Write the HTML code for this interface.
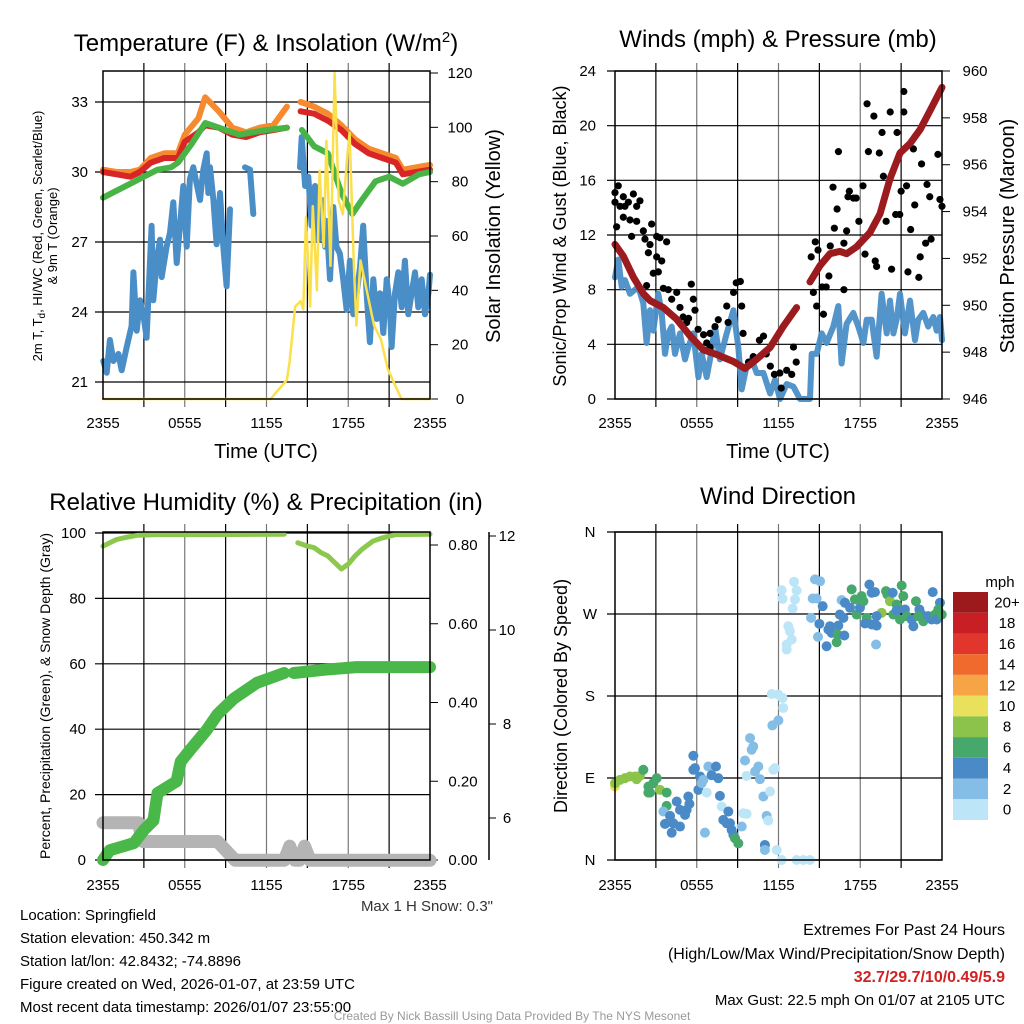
<!DOCTYPE html>
<html><head><meta charset="utf-8"><style>
html,body{margin:0;padding:0;background:#fff;}
svg{display:block;font-family:"Liberation Sans",Arial,sans-serif;}
</style></head><body>
<svg id="chart" width="1024" height="1024" viewBox="0 0 1024 1024" xmlns="http://www.w3.org/2000/svg">
<rect x="0" y="0" width="1024" height="1024" fill="#fff"/>
<g id="p1"></g>
<g id="p2"></g>
<g id="p3"></g>
<g id="p4"></g>
<text x="266" y="51" font-size="24" text-anchor="middle">Temperature (F) &amp; Insolation (W/m<tspan dy="-9" font-size="15">2</tspan><tspan dy="9">)</tspan></text>
<text x="778" y="47" font-size="24" text-anchor="middle">Winds (mph) &amp; Pressure (mb)</text>
<text x="266" y="510" font-size="24" text-anchor="middle">Relative Humidity (%) &amp; Precipitation (in)</text>
<text x="778" y="504" font-size="24" text-anchor="middle">Wind Direction</text>
<text x="266" y="458" font-size="20" text-anchor="middle">Time (UTC)</text>
<text x="778" y="458" font-size="20" text-anchor="middle">Time (UTC)</text>
<text transform="translate(42,236) rotate(-90)" font-size="13" text-anchor="middle">2m T, T<tspan dy="3" font-size="10">d</tspan><tspan dy="-3">, HI/WC (Red, Green, Scarlet/Blue)</tspan></text>
<text transform="translate(57,236) rotate(-90)" font-size="13" text-anchor="middle">&amp; 9m T (Orange)</text>
<text transform="translate(500,236) rotate(-90)" font-size="20" text-anchor="middle">Solar Insolation (Yellow)</text>
<text transform="translate(566,236) rotate(-90)" font-size="18" text-anchor="middle">Sonic/Prop Wind &amp; Gust (Blue, Black)</text>
<text transform="translate(1014,236) rotate(-90)" font-size="20" text-anchor="middle">Station Pressure (Maroon)</text>
<text transform="translate(50,696) rotate(-90)" font-size="14" text-anchor="middle">Percent, Precipitation (Green), &amp; Snow Depth (Gray)</text>
<text transform="translate(567,696) rotate(-90)" font-size="18" text-anchor="middle">Direction (Colored By Speed)</text>
<text x="493" y="911" font-size="15" text-anchor="end" fill="#333">Max 1 H Snow: 0.3"</text>
<g font-size="15">
<text x="20" y="920">Location: Springfield</text>
<text x="20" y="943">Station elevation: 450.342 m</text>
<text x="20" y="966">Station lat/lon: 42.8432; -74.8896</text>
<text x="20" y="989">Figure created on Wed, 2026-01-07, at 23:59 UTC</text>
<text x="20" y="1012">Most recent data timestamp: 2026/01/07 23:55:00</text>
</g>
<g font-size="16" text-anchor="end">
<text x="1005" y="935">Extremes For Past 24 Hours</text>
<text x="1005" y="959">(High/Low/Max Wind/Precipitation/Snow Depth)</text>
<text x="1005" y="982" fill="#d42020" font-weight="bold">32.7/29.7/10/0.49/5.9</text>
<text x="1005" y="1005" font-size="15">Max Gust: 22.5 mph On 01/07 at 2105 UTC</text>
</g>
<text x="512" y="1020" font-size="12" fill="#999" text-anchor="middle">Created By Nick Bassill Using Data Provided By The NYS Mesonet</text>
</svg>
<script>
// ---------- data ----------
const timeTicks = ["2355","0555","1155","1755","2355"];
// Temperature panel
const redT = [0,1,2,2.7,3.5,4.5,5.5,6,7,7.5,8.5,9.5,10.5,11.5,12.5,13.5,null,14.5,15.5,16.5,17.5,18.5,19.5,20.5,21.5,22,23,24];
const redV = [30.0,29.9,29.8,30.0,30.4,30.6,30.6,31.3,31.7,32.0,31.9,31.6,31.5,31.7,31.8,31.9,null,32.6,32.5,32.2,31.8,31.2,30.8,30.6,30.4,29.9,30.0,30.1];
const orangeV = [30.1,30.0,30.0,30.1,30.6,30.8,30.8,31.6,32.3,33.2,32.6,31.9,31.7,31.9,32.0,32.8,null,33.0,32.8,32.5,32.0,31.4,31.0,30.8,30.6,30.1,30.2,30.3];
const greenT = [0,1,2,3,4,5,5.5,6.5,7.5,9,10,11,12,13.5,null,14.6,15.5,16.5,17.5,18.3,19,20,21,22,23.2,24];
const greenV = [28.9,29.2,29.5,29.8,30.1,30.2,30.4,31.2,32.1,31.8,31.6,31.7,31.8,31.9,null,31.8,31.1,30.8,29.1,28.2,28.8,29.6,29.8,29.5,29.9,30.0];
const blueT = [0.02,0.27,0.51,0.76,1.13,1.37,1.74,2.1,2.23,2.47,2.72,2.96,3.2,3.57,3.69,3.94,4.18,4.31,4.67,4.92,5.16,5.41,5.65,5.89,6.14,6.38,6.63,6.87,7.12,7.36,7.61,7.73,7.85,8.1,8.34,8.59,8.83,9.07,9.32,null,10.42,10.79,11.03,null,14.46,14.58,14.83,15.07,15.31,15.56,15.8,16.05,16.29,16.41,16.66,16.9,17.14,17.39,17.63,17.88,18.12,18.37,18.61,18.86,19.1,19.35,19.59,19.84,20.08,20.33,20.57,20.82,21.06,21.18,21.43,21.67,21.92,22.16,22.41,22.65,22.9,23.14,23.39,23.63,23.88,24];
const blueV = [21.9,21.4,22.8,21.9,22.2,21.5,22.5,23.4,25.7,23.2,24.5,23.9,22.9,27.7,24.5,26.2,27.1,25.5,26.8,27.4,28.7,26.1,27.7,29.4,26.8,29.7,30.2,29.5,28.8,30.1,30.8,29.1,30.2,28.8,26.9,29.1,26.8,25.1,28.4,null,30.2,30.1,28.2,null,30.2,31.5,29.4,29.8,27.7,29.4,27.1,28.8,26.8,27.9,25.4,28.5,26.8,26.5,25.4,24.1,26.2,23.9,24.8,25.9,27.7,24.8,22.7,25.4,23.7,24.8,23.1,25.4,24.2,22.5,24.8,25.7,24.2,26.2,23.9,24.8,25.7,24.2,25.4,23.9,24.8,25.6];
const solarT = [0,12.3,12.8,13.5,13.7,14.1,14.5,14.7,14.9,15.2,15.4,15.7,15.9,16.2,16.4,16.7,17.0,17.3,17.6,17.9,18.1,18.4,18.6,18.9,19.4,19.9,20.4,20.9,21.9,24];
const solarV = [0,0,3,7,14,34,36,33,67,34,71,40,84,56,95,49,120,73,68,88,98,51,27,51,39,27,22,11,0,0];
// Winds panel
const windT = [0,0.24,0.49,0.73,1.1,1.47,1.71,2.08,2.32,2.57,2.81,3.18,3.43,3.67,3.91,4.16,4.4,4.77,5.14,5.38,5.75,6.12,6.36,6.73,6.97,7.34,7.7,8.2,8.69,9.05,9.3,9.66,10.03,10.4,10.89,11.38,11.74,12.11,12.6,13.09,13.58,14.31,14.44,14.8,15.17,15.53,16.02,16.39,16.63,17.0,17.49,17.86,18.23,18.47,18.84,19.2,19.57,19.94,20.18,20.43,20.67,20.92,21.28,21.65,22.02,22.26,22.63,22.99,23.36,23.61,23.85,24];
const windV = [8.9,10.2,8.2,8.7,7.7,8.0,8.2,7.0,4.1,6.5,5.0,7.7,6.3,3.3,4.8,5.3,3.3,4.8,2.9,3.8,4.8,1.6,3.3,1.6,2.9,5.3,2.9,4.8,6.5,3.8,0.7,2.4,2.9,1.9,1.9,0.4,1.4,0,1.1,0.9,0,0,3.3,3.3,4.8,4.1,5.3,6.8,2.6,5.5,6.3,5.3,4.1,5.8,5.8,3.1,7.7,4.8,7.2,4.8,5.8,7.7,4.8,7.2,4.3,5.8,6.3,5.3,6.0,5.0,6.0,4.3];
const pressT = [0,0.61,1.35,2.08,2.57,3.55,4.53,5.5,6.48,7.46,8.69,9.54,10.4,11.38,12.35,13.33,null,14.31,15.05,15.78,16.51,17.0,17.74,18.71,19.45,20.18,20.92,21.65,22.39,23.12,24];
const pressV = [952.6,952.1,951.2,950.5,950.2,949.9,949.4,948.7,948.1,947.9,947.6,947.3,947.7,948.2,949.1,949.9,null,951.0,951.7,952.2,952.3,952.2,952.5,953.1,953.9,955.4,956.5,956.9,957.5,958.3,959.3];
const gustT = [0,0.24,0,0.37,0.61,0.73,0.98,1.35,1.59,1.83,1.1,0.61,0.12,1.22,1.59,2.08,2.2,2.57,2.69,3.06,3.3,3.79,2.45,3.06,3.43,2.81,3.18,2.32,3.55,3.91,4.16,4.53,4.77,5.0,5.4,5.6,5.75,5.26,5.87,6.1,6.5,6.73,6.97,7.34,7.58,8.2,8.3,8.7,8.9,9.2,9.3,9.4,6.97,9.8,10.15,10.6,10.9,11.1,11.4,11.7,12.1,12.2,12.6,12.97,13.1,13.3,14.4,14.7,14.9,14.56,14.8,15.3,15.2,15.5,15.7,15.8,16.0,16.1,16.3,16.4,16.8,16.8,17.0,17.1,17.2,17.5,17.7,17.9,18.2,18.35,18.5,18.6,19.0,19.1,19.2,19.4,19.6,19.7,19.9,20.2,20.3,20.6,20.7,20.9,21.0,21.2,21.2,21.4,21.5,21.7,21.9,22.0,22.3,22.4,22.5,22.8,22.9,23.1,23.2,23.7,23.85,24.0];
const gustV = [15.1,15.6,14.4,14.1,14.8,14.1,14.4,15.0,14.1,14.5,13.1,13.3,12.6,11.9,13.0,12.3,11.7,11.3,12.8,11.9,11.8,11.5,10.7,10.4,10.1,9.2,9.3,8.3,8.1,8.0,7.3,7.8,6.7,6.0,5.9,8.4,7.3,5.6,6.5,5.1,4.7,4.1,4.8,5.3,5.8,6.8,5.6,7.8,8.5,8.6,6.8,4.8,3.8,2.7,3.1,4.3,4.6,3.3,2.4,1.8,1.9,0.8,2.1,1.8,3.8,2.7,10.4,11.5,10.9,7.8,6.8,6.2,8.2,8.2,9.0,11.2,15.5,12.5,13.9,18.1,11.4,8.0,12.3,14.8,15.2,14.7,14.7,13.0,15.6,10.6,21.6,18.1,20.7,10.1,9.7,18.0,19.5,16.3,13.0,21.0,9.5,13.5,19.5,13.5,15.2,22.5,21.0,15.6,9.3,12.4,18.3,14.2,8.9,10.4,17.2,11.4,15.7,14.8,11.7,17.9,14.6,14.1];
// Humidity panel
const rhT = [0,0.5,1,1.7,2.5,4,8,13.3,null,14.3,15,15.5,16,16.5,17,17.5,18,18.5,19,19.8,20.5,21.5,24];
const rhV = [96,97,98,98.7,99.3,99.5,99.5,99.6,null,97,96,95.5,94,93,91,89,90.5,93,95,97.5,98.5,99.5,99.6];
const precipT = [0,0.5,2.27,3.0,3.4,3.7,4.0,5.4,5.7,6.4,7.6,8.4,9.6,11.3,13.3,null,14.0,16.2,18.6,24];
const precipV = [0,0.025,0.043,0.076,0.09,0.10,0.17,0.20,0.25,0.28,0.33,0.37,0.41,0.45,0.475,null,0.475,0.483,0.49,0.49];
const snowT = [0,2.6,2.9,8.4,9.7,13.3,13.7,14.1,14.4,14.8,15.2,24];
const snowV = [5.9,5.9,5.5,5.5,5.1,5.1,5.4,5.1,5.1,5.4,5.1,5.1];
// Direction panel
const dirT = [0,0,0.37,0.73,1.1,1.47,1.83,2.08,1.59,2.45,2.57,2.81,3.06,3.3,3.79,2.45,3.79,3.55,4.04,4.28,4.53,4.77,5.14,5.26,4.16,4.77,3.67,5.38,5.46,5.75,5.75,5.87,6.12,6.24,6.36,6.73,6.48,6.6,6.85,7.09,7.41,7.58,7.7,7.83,7.95,8.32,8.2,8.44,8.56,8.69,8.81,9.05,9.3,9.42,9.66,9.66,9.54,9.91,10.03,10.15,10.28,10.52,10.64,10.89,11.13,11.25,11.38,11.0,11.0,11.62,11.74,11.55,11.87,11.99,12.23,12.35,12.3,11.99,11.5,13.33,13.82,14.31,12.23,12.3,13.14,13.33,13.21,13.04,12.72,12.84,12.97,12.6,12.6,14.39,14.51,14.68,15.05,14.8,15.24,15.0,14.9,15.53,15.66,15.9,15.78,16.39,16.34,16.27,16.83,16.5,16.76,16.63,16.88,17.25,17.37,17.61,17.74,17.98,18.23,18.1,18.67,18.84,19.08,19.16,18.47,18.35,18.84,19.2,19.57,19.89,19.99,20.18,20.38,20.67,20.92,21.04,21.16,21.28,21.41,21.77,21.9,22.09,22.34,22.51,22.63,22.99,23.24,23.32,23.49,23.61,23.85,23.98,23.73,19.2,20.43,22.26,20.67];
const dirDeg = [80.7,84.3,88,89.8,91.7,91.7,92.4,99,88.7,80.7,74,84.3,89.8,77,74,74,59.4,53.2,48.4,40.3,64.2,55,49.5,55,30,36.7,39.6,69.7,61.6,114.4,99,100.8,77,91.7,84.3,74,88,30,102.6,93.1,102.6,89.8,70.4,58.7,44,53.2,40.3,40.3,33,27.5,23.8,18.3,36.7,51.3,50.6,92.4,109.2,133.8,121,124.6,97.1,102.6,88.7,69.7,48.4,43.3,75.2,16.5,11,99,100.8,147.7,11,153.2,0,166.8,177.8,181.5,182.2,0,0,0,296.2,286.7,305.4,295.8,286,276,256.6,251.1,242,236.5,231,265.8,287,308,306,287,278.6,259.2,244.9,234.6,253,249.3,256.6,257.3,247.5,239,246.4,269.4,265.8,285.2,282.3,276.8,297,286,269.4,276.8,284,289.6,302.4,293.3,294,236.5,265.8,259.6,258.5,257.3,271.3,295.1,291.4,284,293.3,280.4,264,301.3,289.6,275,267.6,264,256.6,284,275,269.4,262.1,267.6,264,294,269.4,264,282.3,269.4,275,267.6,269.4,267.6,273.9];
const dirSpd = [10.5,9,9,9,9,9,9,7,9,7,7,7,7,9,7,7,7,3,5,5,5,5,5,5,5,5,5,5,5,5,5,5,5,5,3,1,3,3,3,5,5,5,5,1,5,5,5,5,5,5,7,7,3,1,1,1,3,3,3,3,3,3,3,3,3,1,1,5,3,1,1,3,1,3,1,1,1,1,1,1,1,1,1,1,1,1,1,1,1,1,1,1,1,3,3,3,3,3,5,5,3,5,5,5,5,5,7,7,5,5,5,3,5,5,7,7,7,5,7,7,5,5,5,3,7,5,5,5,9,7,7,9,5,7,7,7,7,5,7,5,5,7,5,5,7,5,5,5,7,5,5,7,7,5,7,7,5,5];
const cbLabels = ["20+","18","16","14","12","10","8","6","4","2","0"];
const cbColors = ["#9c1a1c","#c81f24","#e2352b","#ef6a2c","#f7a446","#e9e05c","#8cc44b","#46a86a","#4a8ac6","#84bde6","#bde5f8"];
const tempTicks = [21,24,27,30,33];
const solarTicks = [0,20,40,60,80,100,120];
const windTicks = [0,4,8,12,16,20,24];
const pressTicks = [946,948,950,952,954,956,958,960];
const rhTicks = [0,20,40,60,80,100];
const precipTicks = ["0.00","0.20","0.40","0.60","0.80"];
const snowTicks = [6,8,10,12];
const dirLabels = ["N","E","S","W","N"];

// ---------- helpers ----------
const NS="http://www.w3.org/2000/svg";
function mk(parent,tag,attrs){const e=document.createElementNS(NS,tag);for(const k in attrs)e.setAttribute(k,attrs[k]);parent.appendChild(e);return e;}
function lin(d0,d1,r0,r1){return v=>r0+(v-d0)/(d1-d0)*(r1-r0);}
function pathD(ts,vs,sx,sy){let d="",pen=false;for(let i=0;i<ts.length;i++){if(ts[i]===null||vs[i]===null){pen=false;continue;}d+=(pen?"L":"M")+sx(ts[i]).toFixed(1)+","+sy(vs[i]).toFixed(1);pen=true;}return d;}
function frame(g,x0,x1,y0,y1,nv){
  for(let i=1;i<nv;i++){const x=x0+(x1-x0)*i/nv;const l=mk(g,"line",{x1:x,x2:x,y1:y0-8,y2:y1+8,stroke:i%2?"#000":"#777","stroke-width":1.2});
    
    }
}
function hgrid(g,x0,x1,y,name){const l=mk(g,"line",{x1:x0-8,x2:x1,y1:y,y2:y,stroke:"#000","stroke-width":1.2});
  
  }
function box(g,x0,x1,y0,y1){const r=mk(g,"rect",{x:x0,y:y0,width:x1-x0,height:y1-y0,fill:"none",stroke:"#000","stroke-width":1.5});
  
  }
function xlabels(g,x0,x1,y){timeTicks.forEach((t,i)=>{const e=mk(g,"text",{x:x0+(x1-x0)*i/4,y:y,"font-size":15,"text-anchor":"middle"});e.textContent=t;
  
  });}
function line(g,ts,vs,sx,sy,color,w,name,op){const p=mk(g,"path",{d:pathD(ts,vs,sx,sy),fill:"none",stroke:color,"stroke-width":w,"stroke-linejoin":"round","stroke-linecap":"round","stroke-opacity":op||1});
  
  return p;}
function label(g,x,y,txt,anchor,size){const e=mk(g,"text",{x:x,y:y,"font-size":size||15,"text-anchor":anchor});e.textContent=txt;
  
  return e;}

// ---------- panel 1 ----------
(function(){
 const g=document.getElementById("p1");const X0=103,X1=430,Y0=71,Y1=399;
 const sx=lin(0,24,X0,X1), sy=lin(21,33,382,102), sy2=lin(0,120,399,73);
 frame(g,X0,X1,Y0,Y1,8);
 tempTicks.forEach(v=>{hgrid(g,X0,X1,sy(v),'temperature-gridline');label(g,88,sy(v)+5,String(v),"end");});
 solarTicks.forEach(v=>{const t=mk(g,"line",{x1:X1,x2:X1+8,y1:sy2(v),y2:sy2(v),stroke:"#000"});
   
   
   label(g,460,sy2(v)+5,String(v),"middle");});
 line(g,blueT,blueV,sx,sy,"#4a8ec8",6,"wind-chill-line");
 line(g,orangeV.map((v,i)=>redT[i]),orangeV,sx,sy,"#f58a2e",6,"9m-temperature-line");
 line(g,redT,redV,sx,sy,"#d82626",6,"2m-temperature-line");
 line(g,greenT,greenV,sx,sy,"#48b445",6,"dewpoint-line");
 line(g,solarT,solarV,sx,sy2,"#fbe04a",2.5,"solar-insolation-line");
 box(g,X0,X1,Y0,Y1);
 xlabels(g,X0,X1,428);
})();
// ---------- panel 2 ----------
(function(){
 const g=document.getElementById("p2");const X0=615,X1=942,Y0=71,Y1=399;
 const sx=lin(0,24,X0,X1), sy=lin(0,24,399,71), sy2=lin(946,960,399,71);
 frame(g,X0,X1,Y0,Y1,8);
 windTicks.forEach(v=>{hgrid(g,X0,X1,sy(v),'wind-gridline');label(g,596,sy(v)+5,String(v),"end");});
 pressTicks.forEach(v=>{const t=mk(g,"line",{x1:X1,x2:X1+8,y1:sy2(v),y2:sy2(v),stroke:"#000"});
   
   
   label(g,975,sy2(v)+5,String(v),"middle");});
 line(g,windT,windV,sx,sy,"#4a8ec8",6,"sustained-wind-line",0.95);
 gustT.forEach((t,i)=>{const c=mk(g,"circle",{cx:sx(t),cy:sy(gustV[i]),r:3.6,fill:"#000"});
   
   });
 line(g,pressT,pressV,sx,sy2,"#9b1b1e",7,"pressure-line");
 box(g,X0,X1,Y0,Y1);
 xlabels(g,X0,X1,428);
})();
// ---------- panel 3 ----------
(function(){
 const g=document.getElementById("p3");const X0=103,X1=430,Y0=532,Y1=860;
 const sx=lin(0,24,X0,X1), sy=lin(0,100,860,533), syp=lin(0,0.8,860,545), sys=lin(6,12,818,536);
 frame(g,X0,X1,Y0,Y1,8);
 rhTicks.forEach(v=>{hgrid(g,X0,X1,sy(v),'humidity-gridline');label(g,86,sy(v)+5,String(v),"end");});
 precipTicks.forEach(v=>{const y=syp(parseFloat(v));const t=mk(g,"line",{x1:X1,x2:X1+8,y1:y,y2:y,stroke:"#000"});
   
   
   label(g,463,y+5,v,"middle");});
 const ax=mk(g,"line",{x1:489,x2:489,y1:532,y2:860,stroke:"#000","stroke-width":1.5});
 
 
 snowTicks.forEach(v=>{const t=mk(g,"line",{x1:489,x2:496,y1:sys(v),y2:sys(v),stroke:"#000"});
   
   
   label(g,507,sys(v)+5,String(v),"middle");});
 line(g,snowT,snowV,sx,sys,"#b4b4b4",13,"snow-depth-line");
 line(g,precipT,precipV,sx,syp,"#4ab848",12,"precipitation-line");
 line(g,rhT,rhV,sx,sy,"#8cc84e",5,"humidity-line");
 box(g,X0,X1,Y0,Y1);
 xlabels(g,X0,X1,890);
})();
// ---------- panel 4 ----------
(function(){
 const g=document.getElementById("p4");const X0=615,X1=942,Y0=532,Y1=860;
 const sx=lin(0,24,X0,X1), sy=lin(0,360,860,532);
 frame(g,X0,X1,Y0,Y1,8);
 dirLabels.forEach((v,i)=>{hgrid(g,X0,X1,sy(i*90),'direction-gridline');label(g,590,sy(i*90)+5,v,"middle");});
 dirT.forEach((t,i)=>{const idx=Math.min(10,Math.floor(dirSpd[i]/2));const c=mk(g,"circle",{cx:sx(t),cy:sy(dirDeg[i]),r:5,fill:cbColors[10-idx]});
   
   });
 box(g,X0,X1,Y0,Y1);
 xlabels(g,X0,X1,890);
 const t=mk(g,"text",{x:1000,y:587,"font-size":15,"text-anchor":"middle"});t.textContent="mph";
 
 
 const h=(820-592)/cbLabels.length;
 cbLabels.forEach((l,i)=>{const r=mk(g,"rect",{x:953,y:592+i*h,width:35,height:h,fill:cbColors[i]});
   
   
   label(g,1007,592+i*h+h/2+5,l,"middle");});
})();
</script>
</body></html>
